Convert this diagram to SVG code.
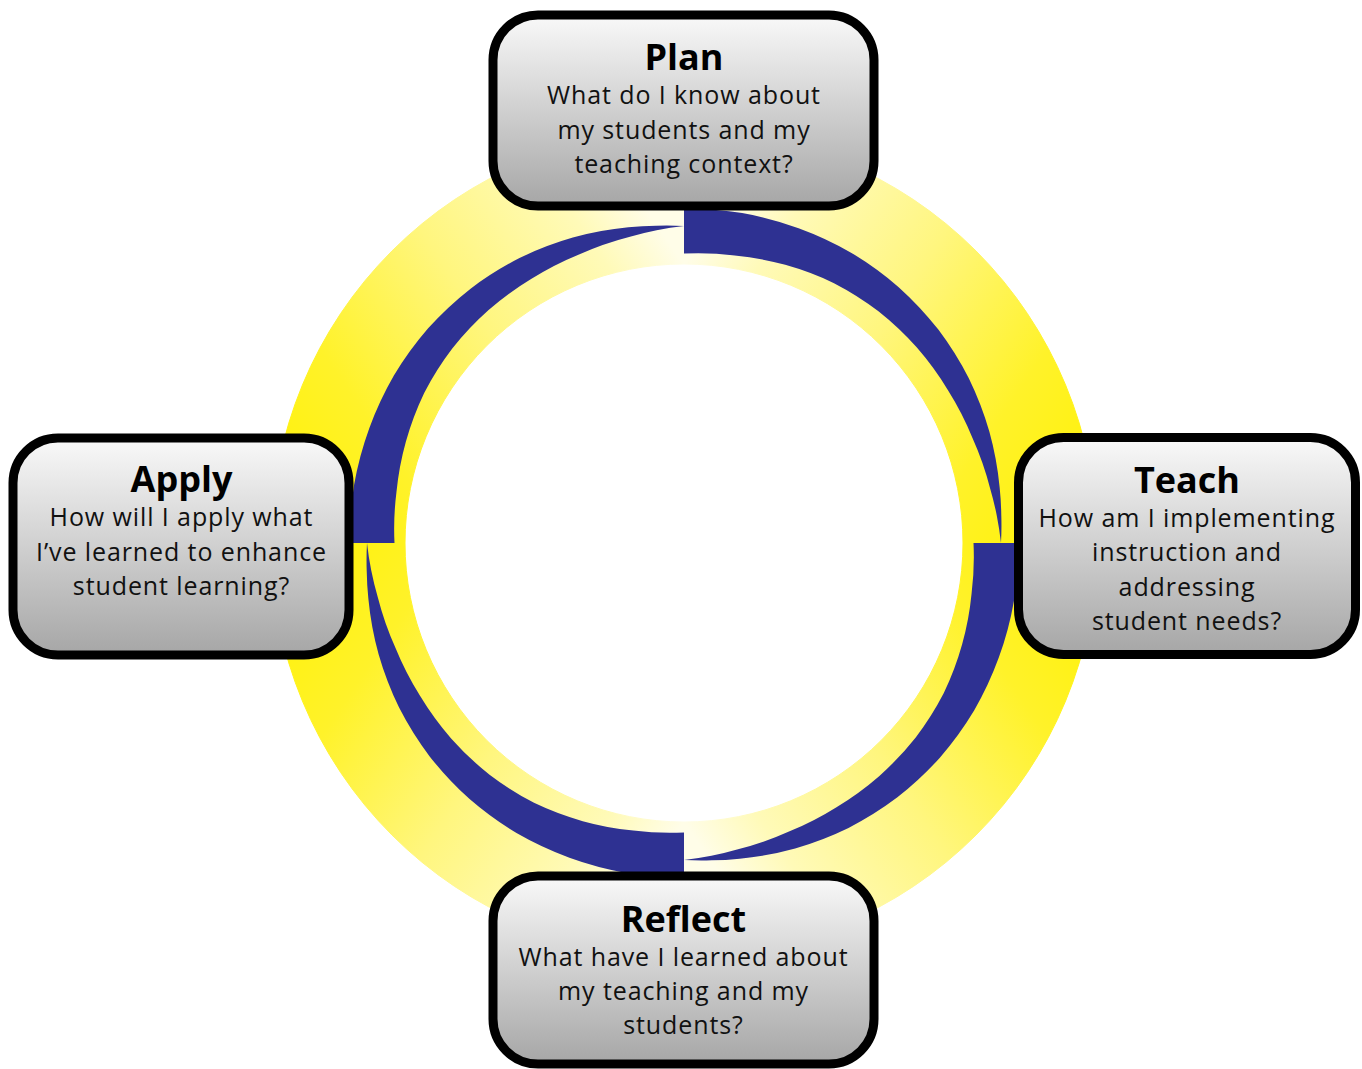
<svg xmlns="http://www.w3.org/2000/svg" xmlns:xlink="http://www.w3.org/1999/xlink" width="1362" height="1069" viewBox="0 0 1362 1069">
<style>
.box{fill:url(#boxGrad);stroke:#000;stroke-width:9}
.title{font-family:"Open Sans","Liberation Sans",sans-serif;font-weight:bold;font-size:36px;fill:#000;text-anchor:middle}
.body{font-family:"Open Sans","Liberation Sans",sans-serif;font-size:25px;letter-spacing:0.9px;fill:#111;text-anchor:middle}
.cres{fill:#2E3192}
</style>
<defs>
<linearGradient id="ringGrad" gradientUnits="userSpaceOnUse" x1="-413" y1="0" x2="0" y2="-279">
<stop offset="0" stop-color="#FFF200"/>
<stop offset="0.3" stop-color="#FFF22A"/>
<stop offset="0.6" stop-color="#FFF67E"/>
<stop offset="0.87" stop-color="#FFFAB8"/>
<stop offset="1" stop-color="#FFFDE8"/>
</linearGradient>
<linearGradient id="boxGrad" x1="0" y1="0" x2="0" y2="1">
<stop offset="0" stop-color="#F9F9F9"/>
<stop offset="1" stop-color="#A6A6A6"/>
</linearGradient>
<path id="quad" d="M -413,0 A 413 413 0 0 1 0,-413 L 0,-279 A 279 279 0 0 0 -279,0 Z" fill="url(#ringGrad)" stroke="url(#ringGrad)" stroke-width="1"/>
<path id="cres" class="cres" d="M 0,-334 A 334 334 0 0 1 58.17,-329.91 A 335 335 0 0 1 114.58,-314.80 A 335 335 0 0 1 167.5,-290.12 A 335 335 0 0 1 214.69,-255.86 A 333 333 0 0 1 254.33,-213.41 A 330 330 0 0 1 284.92,-164.5 A 327 327 0 0 1 305.40,-111.16 A 322 322 0 0 1 315.63,-55.65 A 319 319 0 0 1 317.29,-27.76 A 318 318 0 0 1 317,0 A 315 315 0 0 0 312.80,-27.37 A 312 312 0 0 0 306.28,-54.01 A 309 309 0 0 0 288.48,-105.0 A 306 306 0 0 0 264.14,-152.5 A 304.5 304.5 0 0 0 232.88,-195.41 A 303 303 0 0 0 194.44,-231.73 A 301 301 0 0 0 150,-259.81 A 298 298 0 0 0 101.24,-278.15 A 294 294 0 0 0 50.71,-287.56 A 290.5 290.5 0 0 0 0,-289.5 Z"/>
</defs>
<rect x="0" y="0" width="1362" height="1069" fill="#FFFFFF"/>
<g id="ring">
<use xlink:href="#quad" transform="translate(684,543)"/>
<use xlink:href="#quad" transform="translate(684,543) scale(-1,1)"/>
<use xlink:href="#quad" transform="translate(684,543) scale(1,-1)"/>
<use xlink:href="#quad" transform="translate(684,543) scale(-1,-1)"/>
</g>
<g id="connectors">
<use xlink:href="#cres" transform="translate(684,543)"/>
<use xlink:href="#cres" transform="translate(684,543) rotate(90)"/>
<use xlink:href="#cres" transform="translate(684,543) rotate(180)"/>
<use xlink:href="#cres" transform="translate(684,543) rotate(270)"/>
</g>
<g id="plan">
<rect class="box" x="493" y="15" width="381" height="191" rx="45"/>
<text class="title" x="684" y="70">Plan</text>
<text class="body" x="684" y="103.5">What do I know about</text>
<text class="body" x="684" y="138.5">my students and my</text>
<text class="body" x="684" y="173">teaching context?</text>
</g>
<g id="teach">
<rect class="box" x="1018.5" y="437.5" width="337" height="217" rx="45"/>
<text class="title" x="1187" y="492.5">Teach</text>
<text class="body" x="1187" y="527">How am I implementing</text>
<text class="body" x="1187" y="561">instruction and</text>
<text class="body" x="1187" y="595.5">addressing</text>
<text class="body" x="1187" y="630">student needs?</text>
</g>
<g id="apply">
<rect class="box" x="13" y="438" width="336" height="217" rx="45"/>
<text class="title" x="181.5" y="491.5">Apply</text>
<text class="body" x="181.5" y="526">How will I apply what</text>
<text class="body" x="181.5" y="560.5">I’ve learned to enhance</text>
<text class="body" x="181.5" y="595">student learning?</text>
</g>
<g id="reflect">
<rect class="box" x="493" y="876" width="381" height="188" rx="45"/>
<text class="title" x="683.5" y="931.5">Reflect</text>
<text class="body" x="683.5" y="965.5">What have I learned about</text>
<text class="body" x="683.5" y="1000">my teaching and my</text>
<text class="body" x="683.5" y="1033.5">students?</text>
</g>
</svg>
